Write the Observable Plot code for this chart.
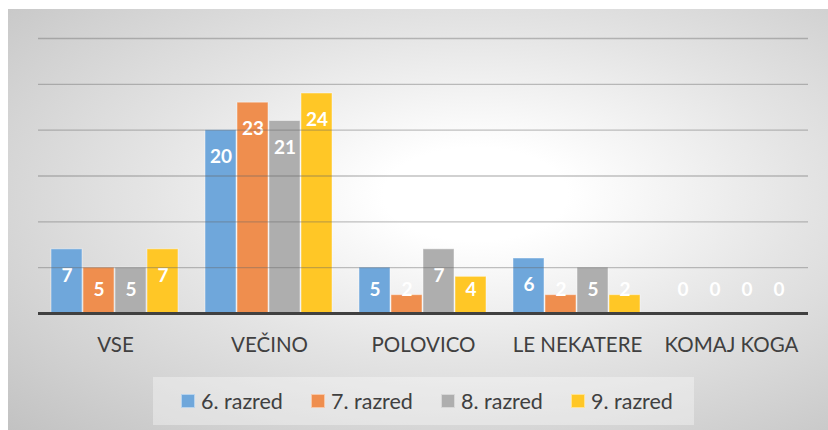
<!DOCTYPE html>
<html>
<head>
<meta charset="utf-8">
<script src="https://cdn.jsdelivr.net/npm/d3@7"></script>
<script src="https://cdn.jsdelivr.net/npm/@observablehq/plot@0.6"></script>
<style>
  html, body { margin: 0; padding: 0; background: #fff; }
  #wrap { position: relative; width: 828px; height: 430px; overflow: hidden; font-family: Lato, "Open Sans", sans-serif; }
  #bg { position: absolute; left: 8px; top: 9px; width: 820px; height: 421px;
        background: radial-gradient(ellipse farthest-corner at 57% 44%, #ffffff 0%, #ffffff 14%, #e4e4e4 50%, #c2c2c2 100%); }
  #chart, #grid { position: absolute; left: 0; top: 0; }
  #grid { pointer-events: none; }
  #legend { position: absolute; left: 153px; top: 377px; width: 541px; height: 48px;
            background: rgba(255,255,255,0.35); }
  .item { position: absolute; top: 11px; display: flex; align-items: center; font-size: 21.5px; color: #404040; line-height: 26px; }
  .sw { width: 12px; height: 12px; margin-right: 6px; border: 1px solid rgba(255,255,255,0.5); }
</style>
</head>
<body>
<div id="wrap">
  <div id="bg"></div>
  <div id="chart"></div>
  <div id="grid"></div>
  <div id="legend"></div>
</div>
<script>
const categories = ["VSE", "VEČINO", "POLOVICO", "LE NEKATERE", "KOMAJ KOGA"];
const series = ["6. razred", "7. razred", "8. razred", "9. razred"];
const razred6 = [7, 20, 5, 6, 0];
const razred7 = [5, 23, 2, 2, 0];
const razred8 = [5, 21, 7, 5, 0];
const razred9 = [7, 24, 4, 2, 0];
const colors = ["#6fa7db", "#ef8e4e", "#aeaeae", "#ffc726"];
const gridTicks = [5, 10, 15, 20, 25, 30];

const seriesValues = [razred6, razred7, razred8, razred9];
const data = categories.flatMap((c, i) =>
  series.map((s, j) => ({cat: c, ser: s, v: seriesValues[j][i]})));

const common = {
  width: 828,
  height: 370,
  marginTop: 38,
  marginBottom: 57,
  marginLeft: 38,
  marginRight: 20,
  style: {background: "transparent", fontFamily: "Lato, 'Open Sans', sans-serif", overflow: "visible"},
  y: {domain: [0, 30], axis: null}
};

const chart = Plot.plot({
  ...common,
  fx: {domain: categories, paddingInner: 0.143, paddingOuter: 0.0715, label: null, axis: null},
  x: {domain: series, padding: 0.03, axis: null},
  color: {domain: series, range: colors},
  marks: [
    Plot.barY(data, {fx: "cat", x: "ser", y: "v", fill: "ser", stroke: "white", strokeOpacity: 0.45, strokeWidth: 1, inset: 0}),
    Plot.text(data, {fx: "cat", x: "ser", y: d => Math.max(d.v - 2.9, 2.55), text: d => String(d.v),
      fill: "white", fontWeight: "bold", fontSize: 19}),
    Plot.axisFx({anchor: "bottom", tickSize: 0, tickPadding: 24, fontSize: 20.5, fill: "#404040", label: null})
  ]
});
document.getElementById("chart").appendChild(chart);

const grid = Plot.plot({
  ...common,
  x: {domain: [0, 1], axis: null},
  marks: [
    Plot.ruleY(gridTicks, {stroke: "#666", strokeOpacity: 0.4, strokeWidth: 1.3}),
    Plot.ruleY([0], {stroke: "#404040", strokeWidth: 3})
  ]
});
document.getElementById("grid").appendChild(grid);

const legend = document.getElementById("legend");
const lefts = [28, 158, 288, 418];
series.forEach((s, i) => {
  const it = document.createElement("div");
  it.className = "item";
  it.style.left = lefts[i] + "px";
  const sw = document.createElement("span");
  sw.className = "sw";
  sw.style.background = colors[i];
  const t = document.createElement("span");
  t.textContent = s;
  it.appendChild(sw);
  it.appendChild(t);
  legend.appendChild(it);
});
</script>
</body>
</html>
